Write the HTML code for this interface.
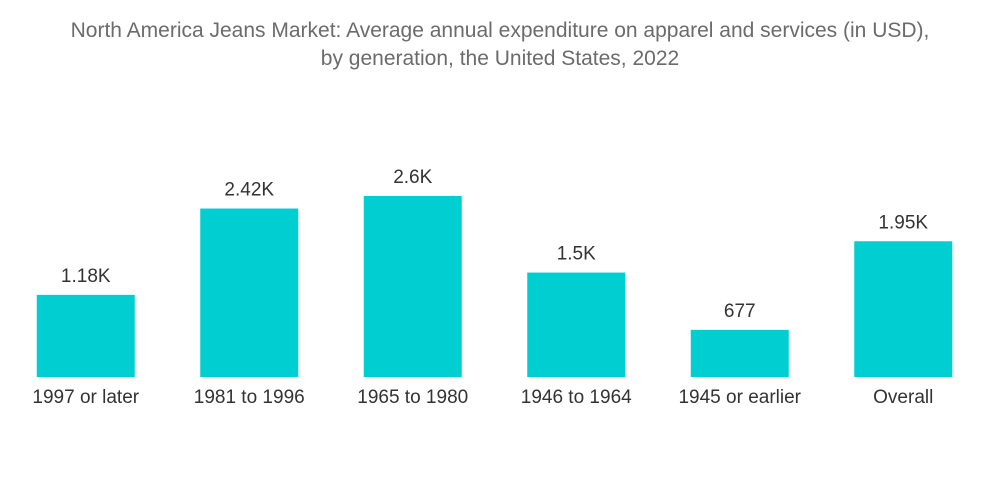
<!DOCTYPE html>
<html><head><meta charset="utf-8"><style>
body{margin:0;background:#fff;font-family:"Liberation Sans",sans-serif;}
#wrap{position:relative;width:1000px;height:504px;overflow:hidden;}
.title{position:absolute;left:0;width:1000px;text-align:center;color:#6b6b6b;font-size:21px;line-height:28px;top:17px;}
</style></head><body>
<div id="wrap">
<div class="title">North America Jeans Market: Average annual expenditure on apparel and services (in USD),<br>by generation, the United States, 2022</div>
<svg id="chart" width="1000" height="504" style="position:absolute;left:0;top:0"></svg>
</div>
<script>
const categories=["1997 or later","1981 to 1996","1965 to 1980","1946 to 1964","1945 or earlier","Overall"];
const values=[1180,2420,2600,1500,677,1950];
const valueLabels=["1.18K","2.42K","2.6K","1.5K","677","1.95K"];
const svg=document.getElementById('chart');
const NS='http://www.w3.org/2000/svg';
const baseY=377, pxPer=181/2600, slot=163.5, x0=4, bw=98;
function xScale(i){return x0+slot*i+(slot-bw)/2;}
function yScale(v){return baseY-v*pxPer;}
categories.forEach((c,i)=>{
  const x=xScale(i), y=yScale(values[i]);
  const r=document.createElementNS(NS,'rect');
  r.setAttribute('x',x);r.setAttribute('y',y);r.setAttribute('width',bw);r.setAttribute('height',baseY-y);r.setAttribute('fill','#00ced1');
  
  
  svg.appendChild(r);
  const t=document.createElementNS(NS,'text');
  t.setAttribute('x',x+bw/2);t.setAttribute('y',y-13);t.setAttribute('text-anchor','middle');t.setAttribute('font-size','19');t.setAttribute('fill','#333');t.setAttribute('font-family','Liberation Sans, sans-serif');
  t.textContent=valueLabels[i];
  
  
  svg.appendChild(t);
  const l=document.createElementNS(NS,'text');
  l.setAttribute('x',x+bw/2);l.setAttribute('y',403);l.setAttribute('text-anchor','middle');l.setAttribute('font-size','19');l.setAttribute('fill','#333');l.setAttribute('font-family','Liberation Sans, sans-serif');
  l.textContent=c;
  
  
  svg.appendChild(l);
});
</script>
</body></html>
